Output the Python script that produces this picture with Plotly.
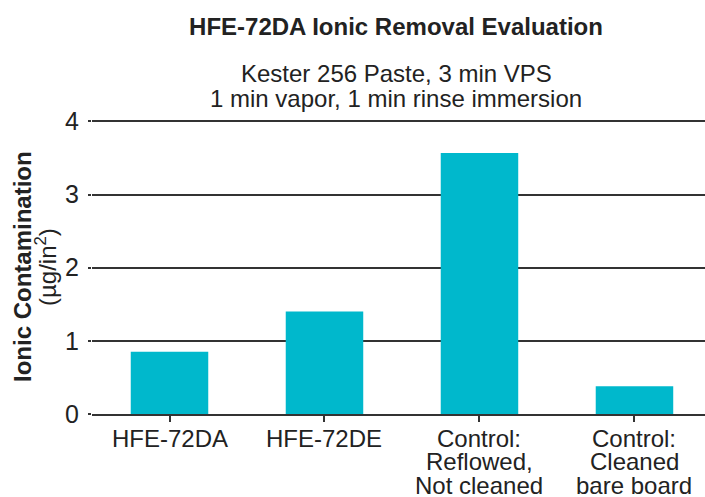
import plotly.graph_objects as go

categories = ["HFE-72DA", "HFE-72DE", "Control:<br>Reflowed,<br>Not cleaned", "Control:<br>Cleaned<br>bare board"]
values = [0.85, 1.40, 3.57, 0.38]
y_ticks = [0, 1, 2, 3, 4]

title_text = "<b>HFE-72DA Ionic Removal Evaluation</b>"
subtitle_lines = ["Kester 256 Paste, 3 min VPS", "1 min vapor, 1 min rinse immersion"]
ytitle_lines = ["<b>Ionic Contamination</b>", "(µg/in<sup>2</sup>)"]

FONT = "Liberation Sans, Arial, sans-serif"
TXT = "#222222"
BAR = "#00B8CC"
GRID = "#333333"

x_idx = list(range(len(categories)))

fig = go.Figure()
fig.add_trace(go.Bar(x=x_idx, y=values, marker_color=BAR, marker_line_width=0, width=0.5))

annotations = []
# category labels, one annotation per line for tight line spacing
for i, lab in enumerate(categories):
    for j, line in enumerate(lab.split("<br>")):
        annotations.append(dict(x=i, y=0, xref="x", yref="y", text=line, showarrow=False,
                                xanchor="center", yanchor="middle", yshift=-24 - 23.5 * j,
                                font=dict(family=FONT, size=24, color=TXT)))
# subtitle lines
for j, line in enumerate(subtitle_lines):
    annotations.append(dict(x=0.496, y=[1.158, 1.073][j], xref="paper", yref="paper", text=line,
                            showarrow=False, xanchor="center", yanchor="middle",
                            font=dict(family=FONT, size=24, color=TXT)))
# y axis title lines
for j, line in enumerate(ytitle_lines):
    annotations.append(dict(x=0, y=0.5, xref="paper", yref="paper", text=line, showarrow=False,
                            textangle=-90, xanchor="center", yanchor="middle", xshift=[-70, -46][j],
                            font=dict(family=FONT, size=[24, 24][j], color=TXT)))

fig.update_layout(
    width=705, height=497,
    margin=dict(l=92, r=0, t=120, b=83),
    paper_bgcolor="white", plot_bgcolor="white",
    showlegend=False,
    title=dict(text=title_text, x=396 / 705, xanchor="center", xref="container",
               y=1 - 26.5 / 497, yanchor="middle", yref="container",
               font=dict(family=FONT, size=24, color=TXT)),
    annotations=annotations,
    bargap=0.5,
)

fig.update_xaxes(range=[-0.5, 3.455], tickmode="array", tickvals=x_idx,
                 showticklabels=False, tickson="boundaries", ticks="outside", ticklen=6,
                 tickwidth=2, tickcolor=GRID, showline=True, linecolor=GRID, linewidth=2,
                 showgrid=False, zeroline=False, fixedrange=True)
fig.update_yaxes(range=[0, 4.02], tickmode="array", tickvals=y_ticks, ticks="outside", ticklen=3,
                 tickwidth=2, tickcolor=GRID, showgrid=True, gridcolor=GRID, gridwidth=2,
                 zeroline=False, showline=False, ticklabelstandoff=4,
                 tickfont=dict(family=FONT, size=25, color=TXT), fixedrange=True)

fig.write_html("out.html", config={"displayModeBar": False},
               post_script="document.body.style.margin='0';")
